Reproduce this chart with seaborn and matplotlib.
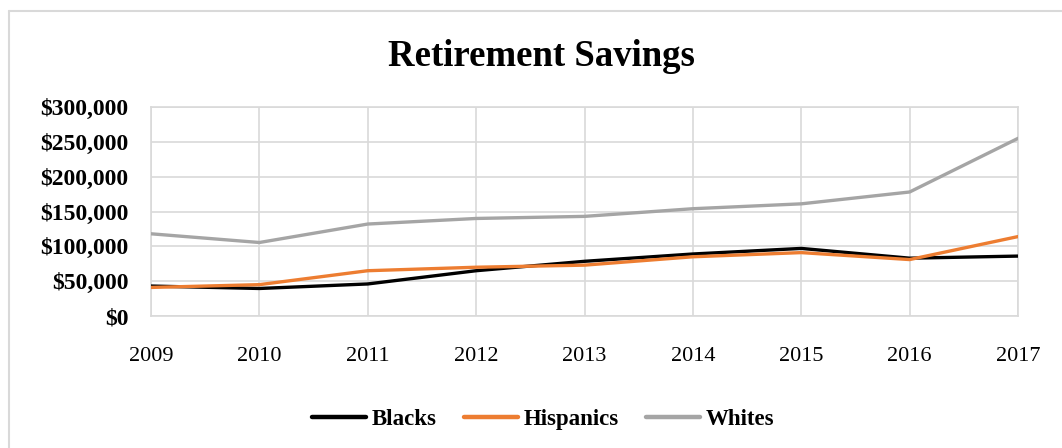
import matplotlib
matplotlib.use("Agg")
import matplotlib.pyplot as plt
from matplotlib.lines import Line2D
from matplotlib.ticker import FuncFormatter
import pandas as pd
import seaborn as sns

# Median retirement savings by group, 2009-2017
years = [2009, 2010, 2011, 2012, 2013, 2014, 2015, 2016, 2017]
blacks = [43000, 39500, 46000, 65000, 78500, 89000, 97000, 83000, 86000]
hispanics = [41000, 45000, 65000, 70000, 73000, 85000, 91000, 81000, 114000]
whites = [118000, 105500, 132000, 140000, 143000, 154000, 161000, 178000, 255000]

groups = ["Blacks", "Hispanics", "Whites"]
colors = ["#000000", "#ED7D31", "#A5A5A5"]
y_ticks = [0, 50000, 100000, 150000, 200000, 250000, 300000]

df = pd.DataFrame({
    "Year": years * 3,
    "Savings": blacks + hispanics + whites,
    "Group": [g for g in groups for _ in years],
})

sns.set_theme(style="white")
plt.rcParams["font.family"] = ["Liberation Serif", "DejaVu Serif"]
plt.rcParams["text.color"] = "black"

W, H = 1062, 448
fig = plt.figure(figsize=(W / 100, H / 100), dpi=100)
fig.patch.set_facecolor("white")

# chart-area frame (top and left edges visible)
fig.add_artist(Line2D([9 / W, 9 / W], [0, 1 - 11 / H], color="#D9D9D9", lw=1.5,
                      transform=fig.transFigure))
fig.add_artist(Line2D([9 / W, 1], [1 - 11 / H, 1 - 11 / H], color="#D9D9D9", lw=1.5,
                      transform=fig.transFigure))

left, right, top, bottom = 151, 1018, 107, 316
ax = fig.add_axes([left / W, 1 - bottom / H, (right - left) / W, (bottom - top) / H])

sns.lineplot(data=df, x="Year", y="Savings", hue="Group", hue_order=groups,
             palette=colors, linewidth=2.4, ax=ax, legend=False, zorder=3)

ax.set_xlim(years[0], years[-1])
ax.set_ylim(0, 300000)
ax.set_xticks(years)
ax.set_yticks(y_ticks)
ax.yaxis.set_major_formatter(FuncFormatter(lambda v, p: f"${v:,.0f}"))
ax.grid(True, color="#D9D9D9", linewidth=1.2, zorder=0)
for s in ax.spines.values():
    s.set_color("#D9D9D9")
    s.set_linewidth(1.2)
ax.set_xlabel("")
ax.set_ylabel("")
ax.tick_params(axis="y", length=0, pad=16, labelsize=17, labelcolor="black")
ax.tick_params(axis="x", length=0, pad=22, labelsize=16, labelcolor="black")
for lbl in ax.get_yticklabels():
    lbl.set_fontweight("bold")

fig.text(541 / W, 1 - 57 / H, "Retirement Savings", ha="center", va="center",
         fontsize=26.5, fontweight="bold", color="black")

handles = [Line2D([], [], color=c, lw=3.2) for c in colors]
leg = fig.legend(handles, groups, loc="center", bbox_to_anchor=(543 / W, 1 - 419 / H),
                 ncol=3, frameon=False, handlelength=2.35, handletextpad=0.25,
                 columnspacing=1.2, prop={"weight": "bold", "size": 16.5})
for t in leg.get_texts():
    t.set_color("black")

fig.savefig("out.png", dpi=100, facecolor="white")
